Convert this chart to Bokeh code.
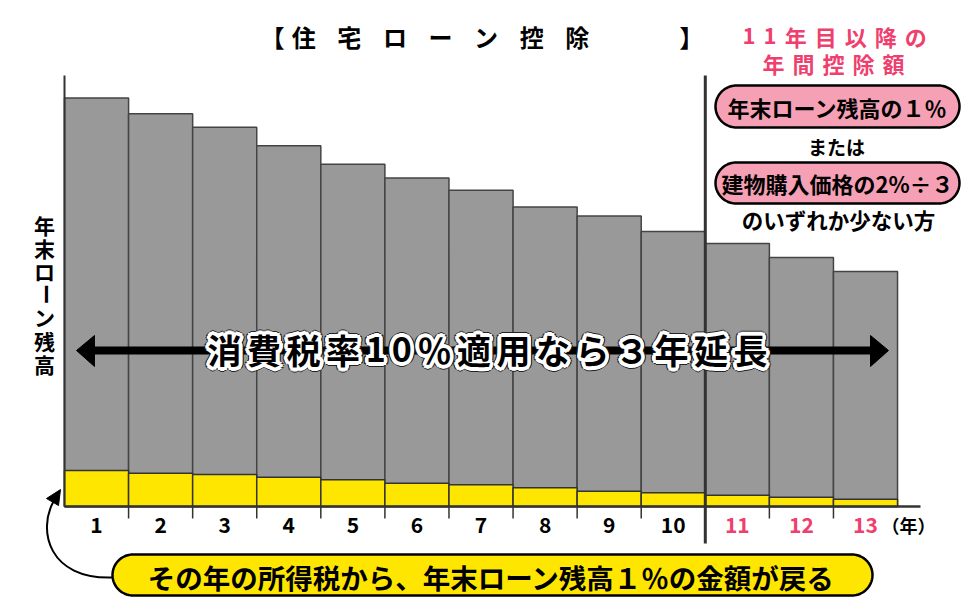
import math
from bokeh.plotting import figure
from bokeh.models import Range1d
from bokeh.core.properties import value
from bokeh.embed import file_html
from bokeh.resources import INLINE

# ---------------- data ----------------
years = [1, 2, 3, 4, 5, 6, 7, 8, 9, 10, 11, 12, 13]
year_labels = ["1", "2", "3", "4", "5", "6", "7", "8", "9", "10", "11", "12", "13"]
loan_balance = [94.8, 91.1, 88.0, 83.7, 79.4, 76.2, 73.4, 69.5, 67.4, 63.8, 61.0, 57.8, 54.5]
tax_refund = [8.35, 7.73, 7.42, 6.80, 6.19, 5.41, 5.03, 4.34, 3.55, 3.18, 2.62, 2.16, 1.69]
extended_from = 11

title_chars = "住宅ローン控除"
y_label = "年末ローン残高"
unit_label = "（年）"
banner = "消費税率10％適用なら３年延長"
side_head1 = "11年目以降の"
side_head2 = "年間控除額"
side_opt1 = "年末ローン残高の１％"
side_or = "または"
side_opt2 = "建物購入価格の2%÷３"
side_tail = "のいずれか少ない方"
bottom_note = "その年の所得税から、年末ローン残高１％の金額が戻る"

# ---------------- styling / geometry helpers ----------------
W, H = 973, 609
FONT = value("Noto Sans CJK JP")
PINK = "#EF3F6E"
PILL_PINK = "#F5A0B4"
YELLOW = "#FFE600"
GRAY = "#999999"


def X(px):
    return 0.5 + (px - 64) / 64.08


def Y(py):
    return (506 - py) / 4.31


p = figure(width=W, height=H, x_range=Range1d(X(0), X(W)), y_range=Range1d(Y(H), Y(0)),
           output_backend="svg", toolbar_location=None, min_border=0,
           x_axis_type=None, y_axis_type=None)
p.grid.visible = False
p.outline_line_color = None
p.background_fill_color = "white"


def char_positions(s, cx, size, gap):
    widths = [size if ord(c) > 0x2E7F else size * 0.6 for c in s]
    total = sum(widths) + gap * (len(s) - 1)
    x = cx - total / 2
    out = []
    for w in widths:
        out.append(x + w / 2)
        x += w + gap
    return out


def spaced_text(s, cx, cy, size, gap, color="black", style="bold"):
    xs = [X(v) for v in char_positions(s, cx, size, gap)]
    p.text(x=xs, y=[Y(cy)] * len(s), text=list(s), text_font=FONT,
           text_font_size=f"{size}px", text_font_style=style, text_color=color,
           text_align="center", text_baseline="middle")


def plain_text(s, cx, cy, size, color="black", style="bold", align="center"):
    p.text(x=[X(cx)], y=[Y(cy)], text=[s], text_font=FONT, text_font_size=f"{size}px",
           text_font_style=style, text_color=color, text_align=align, text_baseline="middle")


def pill(x0, x1, y0, y1, fill):
    r = (y1 - y0) / 2
    cy = (y0 + y1) / 2
    pts = []
    for i in range(31):
        t = -math.pi / 2 + math.pi * i / 30
        pts.append((x1 - r + r * math.cos(t), cy + r * math.sin(t)))
    for i in range(31):
        t = math.pi / 2 + math.pi * i / 30
        pts.append((x0 + r + r * math.cos(t), cy + r * math.sin(t)))
    p.patch([X(a) for a, b in pts], [Y(b) for a, b in pts], fill_color=fill,
            line_color="black", line_width=2.5)


# ---------------- bars ----------------
p.vbar(x=years, top=loan_balance, bottom=0, width=1, fill_color=GRAY,
       line_color="#444444", line_width=1.5)
p.vbar(x=years, top=tax_refund, bottom=0, width=1, fill_color=YELLOW,
       line_color="#333333", line_width=1.5)

# axes
p.segment(x0=[X(64)], y0=[0], x1=[X(920)], y1=[0], line_color="#333333", line_width=2.5)
p.segment(x0=[X(64)], y0=[0], x1=[X(64)], y1=[Y(75)], line_color="#333333", line_width=2)
ticks = [y + 0.5 for y in years[:-1] if y + 0.5 != extended_from - 0.5]
p.segment(x0=ticks, y0=[0] * len(ticks), x1=ticks, y1=[Y(518)] * len(ticks),
          line_color="#333333", line_width=1.5)
# divider between year 10 and 11
p.segment(x0=[extended_from - 0.5], y0=[Y(543)], x1=[extended_from - 0.5], y1=[Y(75)],
          line_color="#333333", line_width=3)

# tick labels
label_colors = ["black" if y < extended_from else PINK for y in years]
p.text(x=years, y=[Y(524)] * len(years), text=year_labels, text_color=label_colors,
       text_font=FONT, text_font_size="21px", text_font_style="bold",
       text_align="center", text_baseline="middle")
plain_text(unit_label, 908, 524, 18, style="bold")

# y label (vertical)
yl_y = [Y(224.5 + 23.1 * i) for i in range(len(y_label))]
yl_angle = [math.pi / 2 if c == "ー" else 0 for c in y_label]
p.text(x=[X(44)] * len(y_label), y=yl_y, text=list(y_label), angle=yl_angle,
       text_font=FONT, text_font_size="21px", text_font_style="bold", text_color="black",
       text_align="center", text_baseline="middle")

# title
spaced_text(title_chars, 440, 36, 24, 21.6)
plain_text("【", 272, 36, 24)
plain_text("】", 691, 36, 24)

# right side notes
spaced_text(side_head1, 834, 35, 22, 8, color=PINK)
spaced_text(side_head2, 833, 62, 22, 8, color=PINK)
pill(715, 959, 85, 127, PILL_PINK)
plain_text(side_opt1, 837, 106, 22)
plain_text(side_or, 836, 146, 19)
pill(715, 959, 162, 203, PILL_PINK)
plain_text(side_opt2, 837, 182, 22)
plain_text(side_tail, 838, 219, 21.5)

# double arrow in the middle
p.segment(x0=[X(90)], y0=[Y(350)], x1=[X(875)], y1=[Y(350)], line_color="black", line_width=8)
p.patches(xs=[[X(76), X(94), X(94)], [X(888), X(870), X(870)]],
          ys=[[Y(350), Y(335), Y(366)], [Y(350), Y(335), Y(366)]],
          fill_color="black", line_color="black")

# banner text with halo
bx = [X(v) for v in char_positions(banner, 487, 34, 5.5)]
by = [Y(349)] * len(banner)
for rad, col in ((4.8, "#222222"), (3.6, "white")):
    for k in range(16):
        a = 2 * math.pi * k / 16
        p.text(x=bx, y=by, text=list(banner), x_offset=rad * math.cos(a), y_offset=rad * math.sin(a),
               text_font=FONT, text_font_size="34px", text_font_style="bold", text_color=col,
               text_align="center", text_baseline="middle")
p.text(x=bx, y=by, text=list(banner), text_font=FONT, text_font_size="34px",
       text_font_style="bold", text_color="black", text_align="center", text_baseline="middle")

# bottom note
pill(112, 872, 554, 595, YELLOW)
plain_text(bottom_note, 491, 576, 27.5)

# curved arrow from the note to the origin
p.bezier(x0=[X(112)], y0=[Y(577)], x1=[X(53)], y1=[Y(501)],
         cx0=[X(48)], cy0=[Y(579)], cx1=[X(37)], cy1=[Y(530)],
         line_color="black", line_width=2)
p.patch([X(60), X(46), X(58)], [Y(489), Y(498), Y(505)], fill_color="black", line_color="black")

open("out.html", "w").write(file_html(p, INLINE))
